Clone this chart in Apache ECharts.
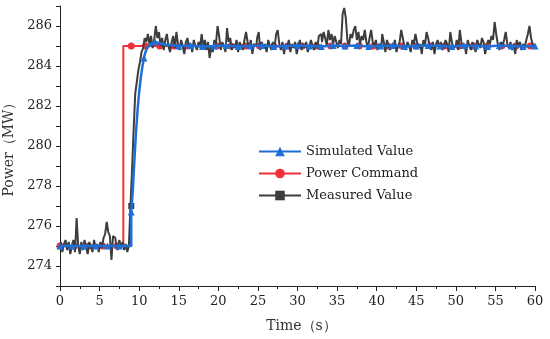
<!DOCTYPE html>
<html>
<head>
<meta charset="utf-8">
<script src="https://cdn.jsdelivr.net/npm/echarts@6/dist/echarts.min.js"></script>
<style>html,body{margin:0;padding:0;background:#fff}#c{width:550px;height:339px}</style>
</head>
<body>
<div id="c"></div>
<script>
// ---- data ----
const xTicks = [0, 5, 10, 15, 20, 25, 30, 35, 40, 45, 50, 55, 60];
const yTicks = [274, 276, 278, 280, 282, 284, 286];

// Simulated Value
const simT = [0, 1.5, 3, 4.5, 6, 7.5, 9, 9, 9.2, 9.4, 9.6, 9.8, 10, 10.2, 10.4, 10.6, 10.8, 11, 11.5, 12, 12.5, 13, 13.5, 14, 15, 16.5, 18, 19.5, 21, 22.5, 24, 25.5, 27, 28.5, 30, 31.5, 33, 34.5, 36, 37.5, 39, 40.5, 42, 43.5, 45, 46.5, 48, 49.5, 51, 52.5, 54, 55.5, 57, 58.5, 60];
const simV = [275, 275, 275, 275, 275, 275, 275, 276.7, 277.8, 279.3, 280.7, 281.8, 282.7, 283.4, 283.95, 284.4, 284.7, 284.9, 285.1, 285.2, 285.15, 285.1, 285.05, 285.05, 285.0, 285.02, 284.98, 285.0, 285.03, 284.98, 285.0, 285.02, 284.98, 285.0, 285.02, 285.0, 284.98, 285.02, 285.0, 285.02, 284.98, 285.0, 285.02, 284.98, 285.0, 285.02, 285.0, 284.98, 285.02, 285.0, 284.98, 285.02, 285.0, 284.98, 285.0];
const simMark = [1, 1, 1, 1, 1, 1, 0, 1, 0, 0, 0, 0, 0, 0, 0, 1, 0, 0, 0, 1, 0, 0, 0, 0, 1, 1, 1, 1, 1, 1, 1, 1, 1, 1, 1, 1, 1, 1, 1, 1, 1, 1, 1, 1, 1, 1, 1, 1, 1, 1, 1, 1, 1, 1, 1];

// Power Command
const cmdT = [0, 1.8, 3.6, 5.4, 7.2, 8, 8, 9, 10.8, 12.6, 14.4, 16.2, 18, 19.8, 21.6, 23.4, 25.2, 27, 28.8, 30.6, 32.4, 34.2, 36, 37.8, 39.6, 41.4, 43.2, 45, 46.8, 48.6, 50.4, 52.2, 54, 55.8, 57.6, 59.4, 60];
const cmdV = [275, 275, 275, 275, 275, 275, 285, 285, 285, 285, 285, 285, 285, 285, 285, 285, 285, 285, 285, 285, 285, 285, 285, 285, 285, 285, 285, 285, 285, 285, 285, 285, 285, 285, 285, 285, 285];
const cmdMark = [1, 1, 1, 1, 1, 0, 0, 1, 1, 1, 1, 1, 1, 1, 1, 1, 1, 1, 1, 1, 1, 1, 1, 1, 1, 1, 1, 1, 1, 1, 1, 1, 1, 1, 1, 1, 0];

// Measured Value, sampled every 0.2 s from 0 to 60 s
const measStep = 0.2;
const measV = [
274.9, 275.2, 274.7, 275.1, 275.3,
274.8, 275.2, 274.6, 275.0, 275.3,
274.7, 276.4, 275.0, 274.6, 275.2,
274.8, 275.3, 274.9, 274.6, 275.2,
275.0, 274.7, 275.3, 274.9, 275.1,
274.7, 275.2, 274.9, 275.4, 275.6,
276.2, 275.7, 275.5, 274.3, 275.5,
275.4, 275.0, 274.8, 275.3, 274.9,
275.2, 274.8, 275.1, 274.7, 275.0,
277.0, 278.8, 280.8, 282.6, 283.2,
283.8, 284.2, 284.7, 284.9, 285.4,
285.2, 285.6, 285.1, 285.5, 284.9,
285.3, 286.0, 285.4, 285.7, 285.0,
285.4, 284.8, 285.3, 285.6, 285.0,
284.7, 285.2, 285.5, 284.9, 285.7,
285.1, 284.8, 285.3, 285.0, 284.6,
285.2, 285.4, 284.9, 285.1, 284.7,
285.3, 285.0, 284.8, 285.2, 285.0,
285.6, 284.9, 285.3, 284.8, 285.2,
284.4, 285.0, 284.7, 285.3, 285.1,
286.0, 285.5, 284.8, 285.2, 285.0,
284.7, 285.9, 285.2, 285.4, 284.8,
285.1, 284.9, 285.3, 284.7, 285.2,
285.0, 284.8, 285.3, 285.7, 285.2,
284.9, 285.3, 284.6, 285.1, 285.0,
285.4, 285.7, 284.8, 285.2, 284.9,
285.1, 284.7, 285.3, 285.0, 284.8,
285.2, 284.9, 285.6, 285.8, 285.1,
284.8, 285.2, 284.6, 285.1, 284.9,
285.3, 284.7, 285.1, 284.9, 285.2,
284.6, 285.0, 285.3, 284.8, 285.1,
284.9, 285.2, 284.7, 285.0, 285.3,
285.0, 284.8, 285.2, 284.9, 285.5,
285.6, 285.2, 285.7, 285.4, 285.0,
285.8, 285.3, 285.6, 285.1, 285.5,
285.2, 284.9, 285.3, 285.1, 286.6,
286.9, 286.4, 285.3, 285.0, 285.6,
285.4, 285.8, 286.0, 285.3, 285.7,
285.1, 285.5, 285.3, 285.8, 285.2,
284.9, 285.4, 285.8, 285.2, 285.0,
285.3, 284.8, 285.1, 285.0, 285.6,
285.2, 284.7, 285.3, 285.0, 284.8,
285.1, 284.9, 285.3, 284.7, 285.0,
285.2, 285.8, 285.4, 285.0, 284.8,
285.2, 285.0, 284.7, 285.3, 285.1,
285.6, 285.2, 284.9, 285.1, 284.6,
285.3, 285.0, 285.7, 285.4, 285.0,
284.8, 285.2, 284.6, 285.1, 285.3,
284.9, 285.2, 284.8, 285.0, 285.3,
285.1, 284.7, 285.7, 285.2, 284.9,
285.0, 285.3, 284.8, 285.8, 285.2,
284.9, 285.1, 284.6, 285.3, 285.0,
284.8, 285.2, 285.0, 284.7, 285.3,
285.1, 284.9, 285.4, 285.2, 284.6,
285.0, 285.3, 285.1, 285.5, 285.3,
286.2, 285.6, 285.1, 284.8, 285.2,
285.0, 285.3, 285.7, 285.1, 284.9,
285.2, 284.8, 285.1, 284.6, 285.3,
285.0, 285.2, 284.8, 285.1, 284.9,
285.3, 285.6, 286.0, 285.4, 285.1,
285.0
];
const measMarkIdx = [45]; // the visible square marker at t = 9 s

// ---- chart ----
const FONT = 'DejaVu Serif';
const simData = simT.map((t, i) => simMark[i] ? [t, simV[i]] : { value: [t, simV[i]], symbol: 'none' });
const cmdData = cmdT.map((t, i) => cmdMark[i] ? [t, cmdV[i]] : { value: [t, cmdV[i]], symbol: 'none' });
const measData = measV.map((v, i) => {
  const t = Math.round(i * measStep * 10) / 10;
  return measMarkIdx.includes(i) ? [t, v] : { value: [t, v], symbol: 'none' };
});

const chart = echarts.init(document.getElementById('c'), null, { renderer: 'canvas' });
chart.setOption({
  animation: false,
  backgroundColor: '#ffffff',
  grid: { left: 60, right: 15, top: 6, bottom: 53, containLabel: false, outerBoundsMode: 'none' },
  legend: {
    orient: 'vertical', left: 253, top: 140,
    itemWidth: 42, itemHeight: 12, itemGap: 9,
    textStyle: { fontFamily: FONT, fontSize: 13, color: '#222' },
    data: ['Simulated Value', 'Power Command', 'Measured Value']
  },
  xAxis: {
    type: 'value', min: 0, max: 60, interval: 5,
    name: 'Time（s）', nameLocation: 'middle', nameGap: 33,
    nameTextStyle: { fontFamily: FONT, fontSize: 14, color: '#333', padding: [0, 0, 0, 8] },
    axisLine: { show: true, onZero: false, lineStyle: { color: '#222', width: 1 } },
    axisTick: { show: true, inside: false, length: 5, lineStyle: { color: '#222' } },
    minorTick: { show: true, splitNumber: 2, length: 3, lineStyle: { color: '#222' } },
    splitLine: { show: false },
    axisLabel: { fontFamily: FONT, fontSize: 13, color: '#222', margin: 9,
      formatter: v => xTicks.includes(v) ? String(v) : '' }
  },
  yAxis: {
    type: 'value', min: 273, max: 287, interval: 1,
    name: 'Power（MW）', nameLocation: 'middle', nameGap: 36,
    nameTextStyle: { fontFamily: FONT, fontSize: 14, color: '#333' },
    axisLine: { show: true, onZero: false, lineStyle: { color: '#222', width: 1 } },
    axisTick: { show: true, inside: false, length: 4, lineStyle: { color: '#222' } },
    splitLine: { show: false },
    axisLabel: { fontFamily: FONT, fontSize: 13, color: '#222', margin: 8,
      formatter: v => yTicks.includes(v) ? String(v) : '' }
  },
  series: [
    {
      name: 'Simulated Value', type: 'line', z: 4,
      data: simData, symbol: 'triangle', showSymbol: true, showAllSymbol: true, symbolSize: 7,
      color: '#1f6fd6',
      lineStyle: { width: 2.5, color: '#1f6fd6' },
      itemStyle: { color: '#1f6fd6' }
    },
    {
      name: 'Power Command', type: 'line', z: 2,
      data: cmdData, symbol: 'circle', showSymbol: true, showAllSymbol: true, symbolSize: 7,
      color: '#f0303a',
      lineStyle: { width: 2, color: '#f0303a' },
      itemStyle: { color: '#f0303a' }
    },
    {
      name: 'Measured Value', type: 'line', z: 3, step: 'middle',
      data: measData, symbol: 'rect', showSymbol: true, showAllSymbol: true, symbolSize: 6,
      color: '#3d3d3d',
      lineStyle: { width: 2, color: '#3d3d3d' },
      itemStyle: { color: '#3d3d3d' }
    }
  ]
});
</script>
</body>
</html>
